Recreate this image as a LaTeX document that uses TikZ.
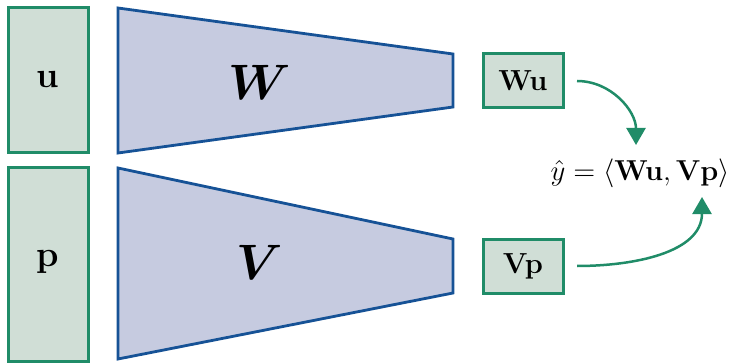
\documentclass[tikz,border=0pt]{standalone}
\usepackage{amsmath,bm}
\usetikzlibrary{arrows.meta}
\definecolor{gborder}{RGB}{32,140,104}
\definecolor{gfill}{RGB}{208,222,214}
\definecolor{bborder}{RGB}{22,82,150}
\definecolor{bfill}{RGB}{198,203,224}
\tikzset{
  vecbox/.style={draw=gborder, fill=gfill, line width=1.5pt},
  matbox/.style={draw=bborder, fill=bfill, line width=1.4pt, line join=miter},
  outbox/.style={draw=gborder, fill=gfill, line width=1.5pt, minimum width=40pt, minimum height=27pt, inner sep=0pt, font=\fontsize{14.5}{16}\selectfont\bfseries},
  flow/.style={draw=gborder, line width=1.25pt, -{Triangle[width=9.5pt,length=8.5pt]}}
}
\begin{document}
\begin{tikzpicture}[x=0.5pt,y=-0.5pt]
\useasboundingbox (0,0) rectangle (732,363);
% input vectors
\draw[vecbox] (8,8) rectangle (88,153);
\node[font=\fontsize{18}{20}\selectfont\bfseries] (u) at (48,80) {u};
\draw[vecbox] (8,168) rectangle (88,361);
\node[font=\fontsize{18}{20}\selectfont\bfseries] (p) at (48,262) {p};
% matrices
\draw[matbox] (118,8) -- (453,54) -- (453,107) -- (118,153) -- cycle;
\node (W) at (260,82) {\fontsize{35}{38}\selectfont$\bm{W}$};
\draw[matbox] (118,168) -- (453,239) -- (453,293) -- (118,359) -- cycle;
\node (V) at (260,262) {\fontsize{35}{38}\selectfont$\bm{V}$};
% outputs
\node[outbox] (Wu) at (523,81) {Wu};
\node[outbox] (Vp) at (523,266) {Vp};
% formula
\node (y) at (640,173) {\fontsize{15.5}{17}\selectfont$\hat{y}=\langle\mathbf{Wu},\mathbf{Vp}\rangle$};
\coordinate (a1) at (577,81);
\coordinate (t1) at (636,145);
\coordinate (a2) at (577,266);
\coordinate (t2) at (702,197);
\draw[flow] (a1) to[out=0,in=90] (t1);
\draw[flow] (a2) to[out=0,in=-90] (t2);
\end{tikzpicture}
\end{document}
